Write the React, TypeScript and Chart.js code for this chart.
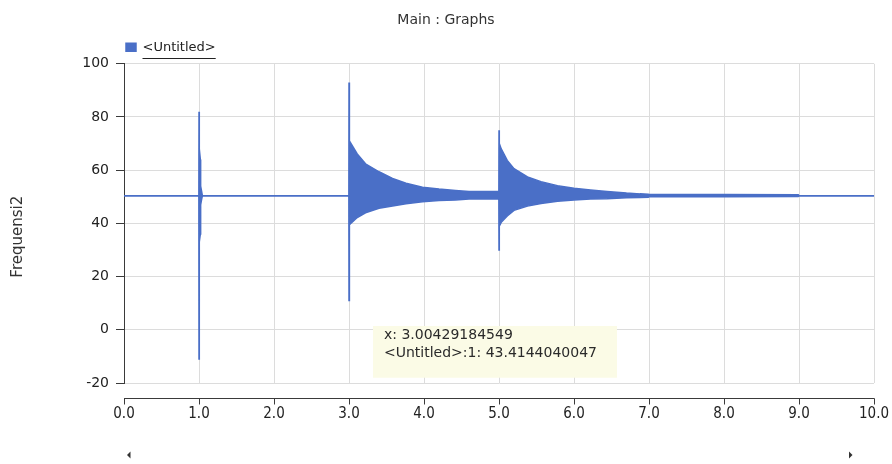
import React, { useEffect, useRef } from "react";
import { Chart, registerables, Tooltip } from "chart.js";

Chart.register(...registerables);

// ---- text ----
const chartTitle = "Main : Graphs";
const seriesName = "<Untitled>";
const yAxisTitle = "Frequensi2";

// ---- ticks ----
const xTickValues = [0, 1, 2, 3, 4, 5, 6, 7, 8, 9, 10];
const xTickLabels = ["0.0", "1.0", "2.0", "3.0", "4.0", "5.0", "6.0", "7.0", "8.0", "9.0", "10.0"];
const yTickValues = [-20, 0, 20, 40, 60, 80, 100];
const yTickLabels = ["-20", "0", "20", "40", "60", "80", "100"];

// ---- signal envelope ----
const envX = [
  0, 0.998, 1.0, 1.004, 1.018, 1.022, 1.035, 1.045,
  2.998, 3.0, 3.003, 3.008, 3.11, 3.22, 3.4, 3.58, 3.76, 3.98, 4.2, 4.42, 4.6, 4.998,
  5.0, 5.004, 5.03, 5.11, 5.2, 5.38, 5.56, 5.78, 6.0, 6.22, 6.44, 6.7, 6.88, 6.99,
  7.0, 8.0, 8.99, 9.0, 10.0,
];
const envUpper = [
  50.4, 50.4, 82, 68, 64, 54, 52, 50.4,
  50.4, 93, 75, 71, 66.1, 62.4, 59.4, 56.9, 55.1, 53.6, 52.9, 52.4, 52.0, 52.0,
  75, 70, 68, 63.7, 60.6, 57.5, 55.7, 54.2, 53.2, 52.6, 52.0, 51.4, 51.1, 51.0,
  50.9, 50.9, 50.8, 50.4, 50.4,
];
const envLower = [
  50.4, 50.4, -11, 33, 36, 47, 49, 50.4,
  50.4, 11, 31, 39.5, 42.2, 44.0, 45.7, 46.5, 47.4, 48.1, 48.6, 48.8, 49.2, 49.2,
  30, 39, 40.4, 42.8, 44.9, 46.5, 47.5, 48.3, 48.8, 49.2, 49.3, 49.6, 49.7, 49.8,
  50.0, 50.0, 50.1, 50.4, 50.4,
];

// ---- tooltip probe ----
const tipX = [3.00429184549];
const tipY = [43.4144040047];
const tipAnchorX = [3.32];
const tipAnchorY = [1.4];

const BLUE = "#4a6fc7";
const GRID = "#dcdcdc";
const AXIS = "#3a3a3a";
const SANS = '"DejaVu Sans", "Liberation Sans", sans-serif';
const NARROW = '"Liberation Sans Narrow", "DejaVu Sans Condensed", "Liberation Sans", sans-serif';

(Tooltip as any).positioners.probeSpot = function (this: any) {
  const c = this.chart;
  return {
    x: c.scales.x.getPixelForValue(tipAnchorX[0]),
    y: c.scales.y.getPixelForValue(tipAnchorY[0]),
  };
};

const detachedAxisPlugin = {
  id: "detachedAxis",
  afterDraw(chart: any) {
    const ctx = chart.ctx;
    const xs = chart.scales.x;
    const ca = chart.chartArea;
    const y0 = Math.round(ca.bottom + 15) + 0.5;
    ctx.save();
    ctx.strokeStyle = AXIS;
    ctx.lineWidth = 1;
    ctx.beginPath();
    ctx.moveTo(xs.left, y0);
    ctx.lineTo(xs.right + 0.5, y0);
    xs.ticks.forEach((_t: any, i: number) => {
      const px = Math.round(xs.getPixelForTick(i)) + 0.5;
      ctx.moveTo(px, y0);
      ctx.lineTo(px, y0 + 6);
    });
    ctx.stroke();
    // scrollbar arrows
    const ay = chart.height - 9;
    ctx.fillStyle = "#333";
    ctx.beginPath();
    const lx = xs.left + 3;
    ctx.moveTo(lx, ay);
    ctx.lineTo(lx + 3.5, ay - 3.5);
    ctx.lineTo(lx + 3.5, ay + 3.5);
    ctx.closePath();
    ctx.fill();
    ctx.beginPath();
    const rx = xs.right - 25;
    ctx.moveTo(rx + 3.5, ay);
    ctx.lineTo(rx, ay - 3.5);
    ctx.lineTo(rx, ay + 3.5);
    ctx.closePath();
    ctx.fill();
    ctx.restore();
  },
};

const yTitlePlugin = {
  id: "yTitle",
  afterDraw(chart: any) {
    const ctx = chart.ctx;
    const ys = chart.scales.y;
    ctx.save();
    ctx.translate(18, ys.getPixelForValue(35));
    ctx.rotate(-Math.PI / 2);
    ctx.font = `15px ${SANS}`;
    ctx.fillStyle = "#333";
    ctx.textAlign = "center";
    ctx.textBaseline = "middle";
    ctx.fillText(yAxisTitle, 0, 0);
    ctx.restore();
  },
};

const legendUnderlinePlugin = {
  id: "legendUnderline",
  afterDraw(chart: any) {
    const lg = chart.legend;
    if (!lg || !lg.legendHitBoxes || !lg.legendHitBoxes.length) return;
    const hb = lg.legendHitBoxes[0];
    const ctx = chart.ctx;
    ctx.save();
    ctx.font = `13px ${SANS}`;
    const tx = hb.left + 10 + 13 / 2;
    const w = ctx.measureText(seriesName).width;
    const uy = Math.round(hb.top + hb.height + 4) + 0.5;
    ctx.strokeStyle = "#222";
    ctx.lineWidth = 1;
    ctx.beginPath();
    ctx.moveTo(tx, uy);
    ctx.lineTo(tx + w, uy);
    ctx.stroke();
    ctx.restore();
  },
};

export default function App() {
  const canvasRef = useRef<HTMLCanvasElement | null>(null);

  useEffect(() => {
    if (!canvasRef.current) return;
    const chart = new Chart(canvasRef.current, {
      type: "line",
      data: {
        datasets: [
          {
            label: seriesName,
            data: envX.map((x, i) => ({ x, y: envUpper[i] })),
            borderColor: BLUE,
            backgroundColor: BLUE,
            borderWidth: 1.5,
            pointRadius: 0,
            pointHoverRadius: 0,
            fill: "+1",
            tension: 0,
          },
          {
            label: "lower",
            data: envX.map((x, i) => ({ x, y: envLower[i] })),
            borderColor: BLUE,
            backgroundColor: BLUE,
            borderWidth: 1.5,
            pointRadius: 0,
            pointHoverRadius: 0,
            fill: false,
            tension: 0,
          },
          {
            label: "probe",
            data: tipX.map((x, i) => ({ x, y: tipY[i] })),
            showLine: false,
            pointRadius: 0,
            pointHoverRadius: 0,
            borderWidth: 0,
          },
        ],
      } as any,
      options: {
        animation: false,
        responsive: true,
        maintainAspectRatio: false,
        events: [],
        layout: { padding: { left: 18, right: 18, top: 0, bottom: 41 } },
        scales: {
          x: {
            type: "linear",
            min: 0,
            max: 10,
            afterBuildTicks: (s: any) => {
              s.ticks = xTickValues.map((v) => ({ value: v }));
            },
            afterFit: (s: any) => {
              s.height = 40;
              s.paddingLeft = 0;
              s.paddingRight = 0;
            },
            ticks: {
              callback: (_v: any, i: number) => xTickLabels[i],
              padding: 22,
              font: { family: NARROW, size: 15 },
              color: "#222",
              maxRotation: 0,
              autoSkip: false,
            },
            grid: { color: GRID, drawTicks: false, lineWidth: 1 },
            border: { display: false },
          },
          y: {
            min: -20,
            max: 100,
            afterBuildTicks: (s: any) => {
              s.ticks = yTickValues.map((v) => ({ value: v }));
            },
            afterFit: (s: any) => {
              s.width = 106;
            },
            ticks: {
              callback: (_v: any, i: number) => yTickLabels[i],
              padding: 7,
              font: { family: SANS, size: 14 },
              color: "#222",
            },
            grid: { color: GRID, tickColor: AXIS, tickLength: 8, lineWidth: 1 },
            border: { display: true, color: AXIS, width: 1 },
          },
        },
        plugins: {
          title: {
            display: true,
            text: chartTitle,
            font: { family: SANS, size: 14, weight: "normal" },
            color: "#333",
            padding: { top: 12, bottom: 10 },
          },
          legend: {
            display: true,
            position: "top",
            align: "start",
            fullSize: false,
            labels: {
              filter: (item: any) => item.datasetIndex === 0,
              boxWidth: 10,
              boxHeight: 8,
              padding: 2,
              font: { family: SANS, size: 13 },
              color: "#222",
            },
          },
          tooltip: {
            enabled: true,
            position: "probeSpot" as any,
            xAlign: "left",
            yAlign: "top",
            caretSize: 0,
            caretPadding: 0,
            cornerRadius: 0,
            displayColors: false,
            backgroundColor: "#fbfbe6",
            titleColor: "#2a2a2a",
            bodyColor: "#2a2a2a",
            titleFont: { family: SANS, size: 14, weight: "normal" },
            bodyFont: { family: SANS, size: 14 },
            titleMarginBottom: 1,
            padding: { top: 1, bottom: 16, left: 11, right: 20 },
            filter: (item: any) => item.datasetIndex === 2,
            callbacks: {
              title: (items: any[]) => `x: ${items[0].parsed.x}`,
              label: (item: any) => `${seriesName}:1: ${item.parsed.y}`,
            },
          },
        },
      } as any,
      plugins: [detachedAxisPlugin, yTitlePlugin, legendUnderlinePlugin],
    });
    chart.tooltip?.setActiveElements([{ datasetIndex: 2, index: 0 }], { x: 0, y: 0 });
    chart.update();
    return () => {
      chart.destroy();
    };
  }, []);

  return (
    <div style={{ position: "fixed", left: 0, top: 0, width: 892, height: 464, background: "#fff" }}>
      <canvas ref={canvasRef} />
    </div>
  );
}
